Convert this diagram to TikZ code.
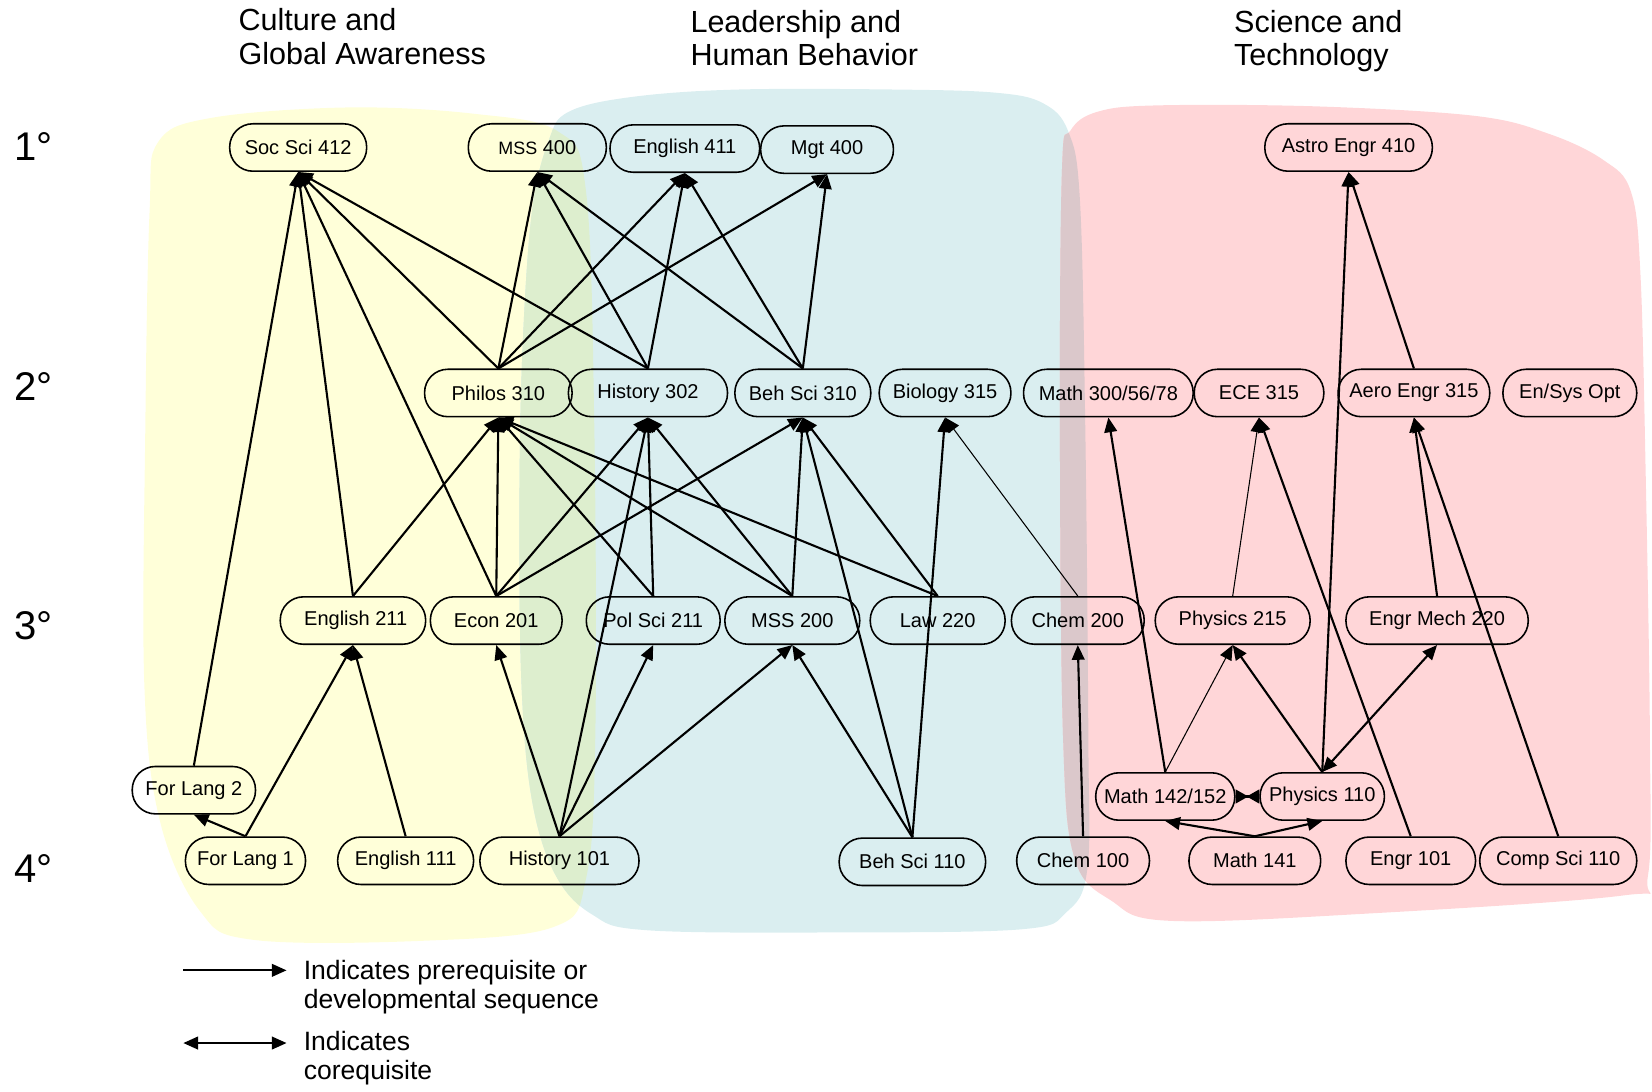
\documentclass[tikz,border=0pt]{standalone}
\usepackage{fontspec}
\setmainfont{Liberation Sans}
\usepackage{xcolor}
\usetikzlibrary{arrows.meta}

\definecolor{culturebg}{RGB}{255,255,217}
\definecolor{leaderbg}{RGB}{218,238,240}
\definecolor{sciencebg}{RGB}{255,214,216}
\definecolor{culleadbg}{RGB}{221,238,206}
\definecolor{leadscibg}{RGB}{219,200,203}

% outlines of the three areas
\newcommand\cultureblob{plot[smooth cycle, tension=0.6] coordinates {(142,200) (150,135) (200,112) (330,102) (450,108) (530,125) (556,180) (564,400) (565,700) (556,835) (525,880) (400,893) (240,892) (190,865) (152,780) (137,650) (138,400)}}
\newcommand\leaderblob{plot[smooth cycle, tension=0.6] coordinates {(521,133) (540,106) (600,92) (700,85) (850,85) (945,88) (990,98) (1014,125) (1025,190) (1030,400) (1033,700) (1032,825) (1012,866) (970,882) (800,885) (615,883) (562,868) (527,830) (505,760) (495,650) (493,480) (496,330) (505,200)}}
\newcommand\scienceblob{plot[smooth cycle, tension=0.6] coordinates {(1008,160) (1016,124) (1042,106) (1100,100) (1250,101) (1400,110) (1470,127) (1522,152) (1548,182) (1557,260) (1562,450) (1566,700) (1564,832) (1540,850) (1300,867) (1110,874) (1055,855) (1020,815) (1009,700) (1006,400)}}

\tikzset{
    course/.style={
        rectangle, rounded corners=11pt,
        draw, line width=0.75pt,
        minimum height=22.5pt, inner sep=2pt,
        align=center, font=\fontsize{9.5}{11}\selectfont
    },
    prereq/.style={->, line width=1pt},
    prereqthin/.style={->, line width=0.5pt},
    coreq/.style={<->, line width=1pt},
    coreqtight/.style={
        {Triangle[reversed,length=6pt,width=6.5pt]}-{Triangle[reversed,length=6pt,width=6.5pt]},
        line width=1pt
    },
    levellabel/.style={anchor=base west, inner sep=0pt, font=\fontsize{19}{22}\selectfont},
    arealabel/.style={anchor=north west, inner sep=0pt, align=left, font=\fontsize{14.5}{15.8}\selectfont},
    legendtext/.style={anchor=north west, inner sep=0pt, align=left, font=\fontsize{12.6}{13.8}\selectfont}
}

\begin{document}
\begin{tikzpicture}[x=0.5pt, y=-0.5pt, >={Triangle[length=7pt,width=6pt]}]
    \useasboundingbox (0,0) rectangle (1568,1036);

    % Areas
    \fill[culturebg] \cultureblob;
    \fill[leaderbg] \leaderblob;
    \fill[sciencebg] \scienceblob;
    \begin{scope}
        \clip \cultureblob;
        \fill[culleadbg] \leaderblob;
    \end{scope}
    \begin{scope}
        \clip \leaderblob;
        \fill[leadscibg] \scienceblob;
    \end{scope}

    % Area titles
    \node[arealabel] (culture) at (226,8) {Culture and\\Global Awareness};
    \node[arealabel] (leadership) at (655,9.5) {Leadership and\\Human Behavior};
    \node[arealabel] (science) at (1171,9.5) {Science and\\Technology};

    % Levels
    \node[levellabel] (lv1) at (13,152) {1°};
    \node[levellabel] (lv2) at (13,380) {2°};
    \node[levellabel] (lv3) at (13,607) {3°};
    \node[levellabel] (lv4) at (13,838) {4°};

    % 1st level courses
    \node[course, minimum width=65pt] (socsci412) at (283,140) {Soc Sci 412};
    \node[course, minimum width=65.5pt] (mss400) at (510,140) {{\fontsize{8.5}{10}\selectfont MSS} 400};
    \node[course, minimum width=71pt] (eng411) at (650,141) {English 411};
    \node[course, minimum width=63pt] (mgt400) at (785,142) {Mgt 400};
    \node[course, minimum width=79.5pt] (astro410) at (1280,140) {Astro Engr 410};

    % 2nd level courses
    \node[course, minimum width=70pt] (philos310) at (473,373) {Philos 310};
    \node[course, minimum width=75.5pt] (hist302) at (615,373) {History 302};
    \node[course, minimum width=64.5pt] (behsci310) at (762,373) {Beh Sci 310};
    \node[course, minimum width=62.5pt] (bio315) at (897,373) {Biology 315};
    \node[course, minimum width=80.5pt] (math300) at (1052,373) {Math 300/56/78};
    \node[course, minimum width=61.5pt] (ece315) at (1195,373) {ECE 315};
    \node[course, minimum width=72pt] (aero315) at (1342,373) {Aero Engr 315};
    \node[course, minimum width=63.5pt] (ensys) at (1490,373) {En/Sys Opt};

    % 3rd level courses
    \node[course, minimum width=69pt] (eng211) at (335,589) {\ English 211};
    \node[course, minimum width=62.5pt] (econ201) at (471,589) {Econ 201};
    \node[course, minimum width=63.5pt] (polsci211) at (620,589) {Pol Sci 211};
    \node[course, minimum width=64pt] (mss200) at (752,589) {MSS 200};
    \node[course, minimum width=64pt] (law220) at (890,589) {Law 220};
    \node[course, minimum width=63pt] (chem200) at (1023,589) {Chem 200};
    \node[course, minimum width=73.5pt] (phys215) at (1170,589) {Physics 215};
    \node[course, minimum width=86.5pt] (engmech220) at (1364,589) {Engr Mech 220};

    \node[course, minimum width=58.5pt] (forlang2) at (184,750) {For Lang 2};
    \node[course, minimum width=66pt] (math142) at (1106,756) {Math 142/152};
    \node[course, minimum width=59pt] (phys110) at (1255,756) {Physics 110};

    % 4th level courses
    \node[course, minimum width=57pt] (forlang1) at (233,817) {For Lang 1};
    \node[course, minimum width=64.5pt] (eng111) at (385,817) {English 111};
    \node[course, minimum width=75.5pt] (hist101) at (531,817) {History 101};
    \node[course, minimum width=69.5pt] (behsci110) at (866,818) {Beh Sci 110};
    \node[course, minimum width=63pt] (chem100) at (1028,817) {Chem 100};
    \node[course, minimum width=62.5pt] (math141) at (1191,817) {Math 141};
    \node[course, minimum width=61.5pt] (engr101) at (1339,817) {Engr 101};
    \node[course, minimum width=74.5pt] (compsci110) at (1479,817) {Comp Sci 110};

    % Arrows into 1st level
    \draw[prereq] (forlang2.north) -- (socsci412.south);
    \draw[prereq] (eng211.north) -- (socsci412.south);
    \draw[prereq] (econ201.north) -- (socsci412.south);
    \draw[prereq] (philos310.north) -- (socsci412.south);
    \draw[prereq] (hist302.north) -- (socsci412.south);
    \draw[prereq] (philos310.north) -- (mss400.south);
    \draw[prereq] (hist302.north) -- (mss400.south);
    \draw[prereq] (behsci310.north) -- (mss400.south);
    \draw[prereq] (philos310.north) -- (eng411.south);
    \draw[prereq] (hist302.north) -- (eng411.south);
    \draw[prereq] (behsci310.north) -- (eng411.south);
    \draw[prereq] (philos310.north) -- (mgt400.south);
    \draw[prereq] (behsci310.north) -- (mgt400.south);
    \draw[prereq] (phys110.north) -- (astro410.south);
    \draw[prereq] (aero315.north) -- (astro410.south);

    % Arrows into 2nd level
    \draw[prereq] (eng211.north) -- (philos310.south);
    \draw[prereq] (econ201.north) -- (philos310.south);
    \draw[prereq] (polsci211.north) -- (philos310.south);
    \draw[prereq] (mss200.north) -- (philos310.south);
    \draw[prereq] (law220.north) -- (philos310.south);
    \draw[prereq] (econ201.north) -- (hist302.south);
    \draw[prereq] (hist101.north) -- (hist302.south);
    \draw[prereq] (polsci211.north) -- (hist302.south);
    \draw[prereq] (mss200.north) -- (hist302.south);
    \draw[prereq] (econ201.north) -- (behsci310.south);
    \draw[prereq] (mss200.north) -- (behsci310.south);
    \draw[prereq] (behsci110.north) -- (behsci310.south);
    \draw[prereq] (law220.north) -- (behsci310.south);
    \draw[prereq] (behsci110.north) -- (bio315.south);
    \draw[prereqthin] (chem200.north) -- (bio315.south);
    \draw[prereq] (math142.north) -- (math300.south);
    \draw[prereqthin] (phys215.north) -- (ece315.south);
    \draw[prereq] (engr101.north) -- (ece315.south);
    \draw[prereq] (engmech220.north) -- (aero315.south);
    \draw[prereq] (compsci110.north) -- (aero315.south);

    % Arrows into 3rd level
    \draw[prereq] (forlang1.north) -- (forlang2.south);
    \draw[prereq] (forlang1.north) -- (eng211.south);
    \draw[prereq] (eng111.north) -- (eng211.south);
    \draw[prereq] (hist101.north) -- (econ201.south);
    \draw[prereq] (hist101.north) -- (polsci211.south);
    \draw[prereq] (hist101.north) -- (mss200.south);
    \draw[prereq] (behsci110.north) -- (mss200.south);
    \draw[prereq] (chem100.north) -- (chem200.south);
    \draw[prereqthin] (math142.north) -- (phys215.south);
    \draw[prereq] (phys110.north) -- (phys215.south);
    \draw[coreq] (phys110.north) -- (engmech220.south);
    \draw[prereq] (math141.north) -- (math142.south);
    \draw[prereq] (math141.north) -- (phys110.south);
    \draw[coreqtight] (math142.east) -- (phys110.west);

    % Legend
    \coordinate (prereqa) at (174,921);
    \coordinate (prereqb) at (272,921);
    \draw[prereq] (prereqa) -- (prereqb);
    \node[legendtext] (prereqtext) at (288,911) {Indicates prerequisite or\\developmental sequence};
    \coordinate (coreqa) at (174,990);
    \coordinate (coreqb) at (272,990);
    \draw[coreq] (coreqa) -- (coreqb);
    \node[legendtext] (coreqtext) at (288,978) {Indicates\\corequisite};

\end{tikzpicture}
\end{document}
